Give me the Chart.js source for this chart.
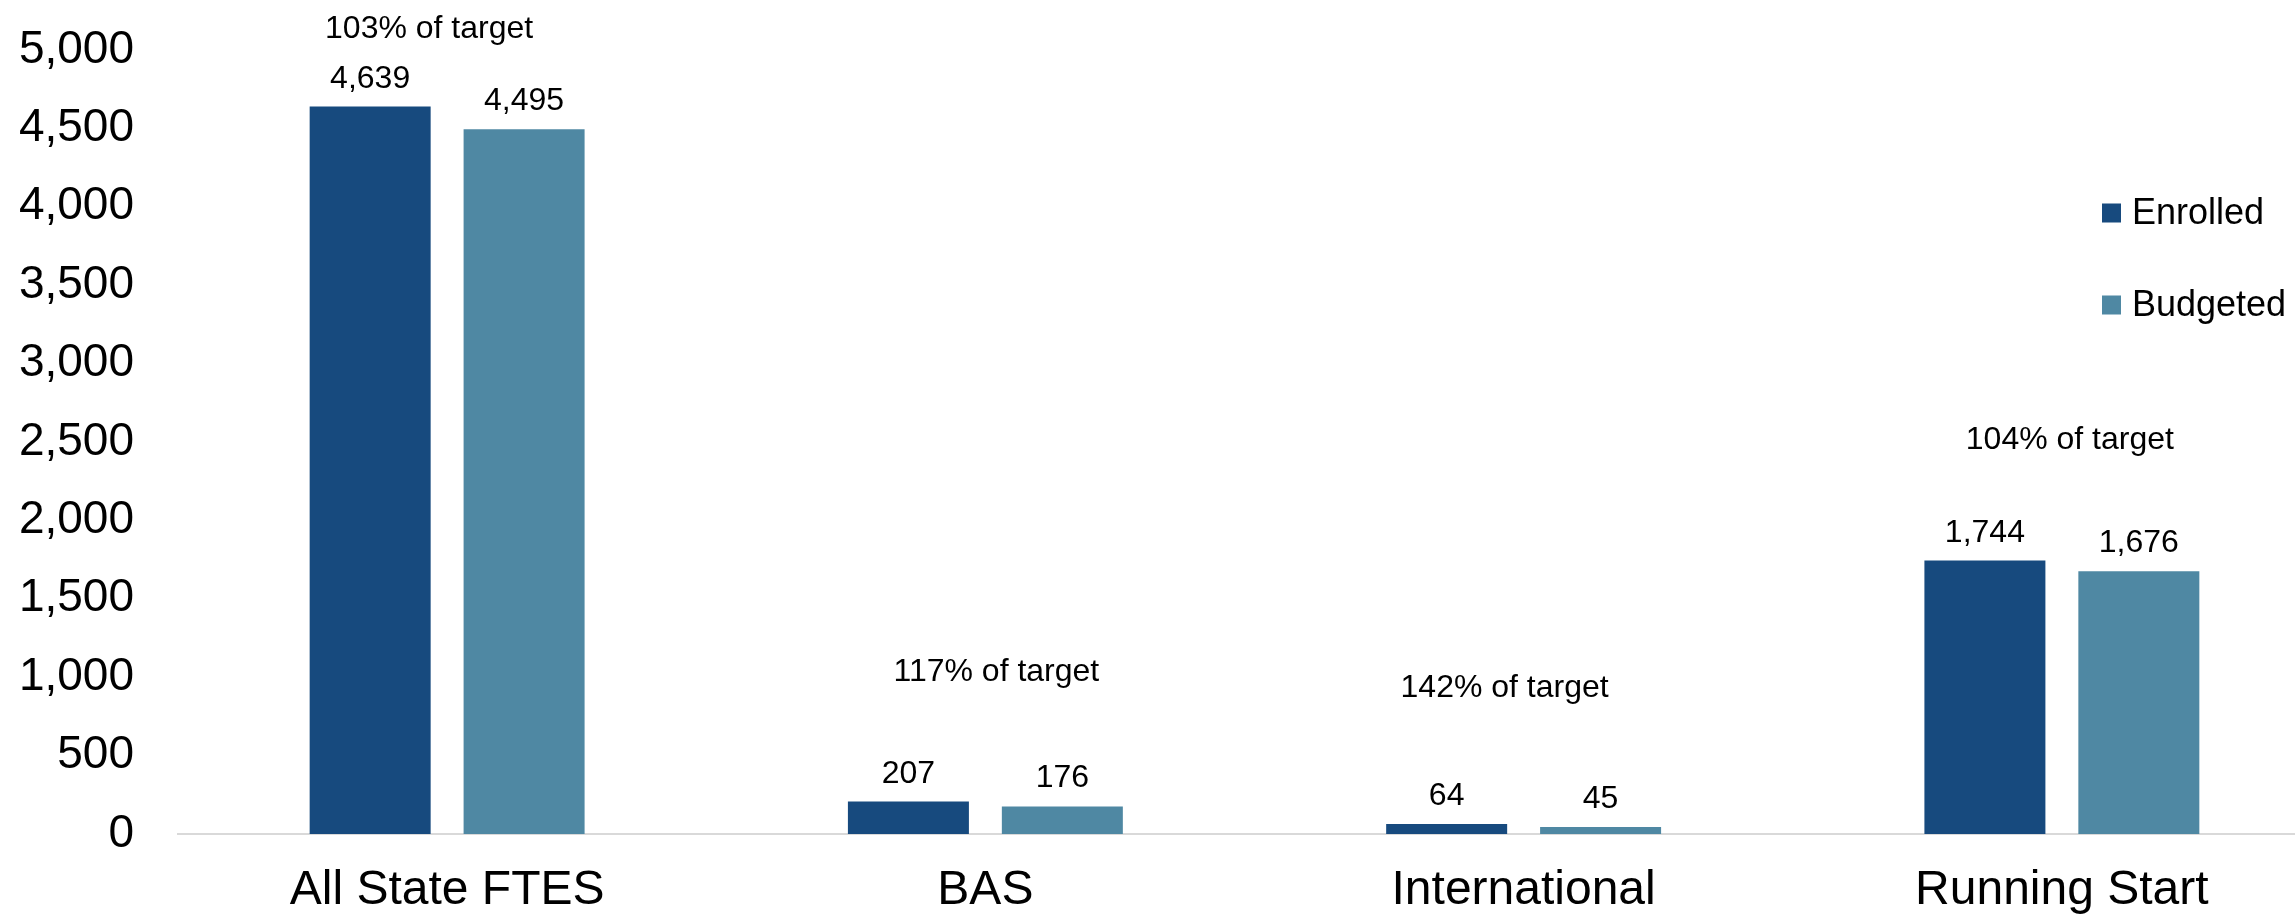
<!DOCTYPE html>
<html>
<head>
<meta charset="utf-8">
<title>FTES Enrolled vs Budgeted</title>
<script src="https://cdn.jsdelivr.net/npm/chart.js@4.4.1/dist/chart.umd.min.js"></script>
<style>
    html, body { margin: 0; padding: 0; background: #ffffff; overflow: hidden; }
    #wrap { position: relative; width: 2331px; height: 918px; }
</style>
</head>
<body>
<div id="wrap"><canvas id="ftesChart"></canvas></div>
<script>
// Chart data
const categories = ['All State FTES', 'BAS', 'International', 'Running Start'];
const enrolled = [4639, 207, 64, 1744];
const budgeted = [4495, 176, 45, 1676];
const yTicks = [0, 500, 1000, 1500, 2000, 2500, 3000, 3500, 4000, 4500, 5000];

// "% of target" notes, anchored in data units (like annotation boxes)
const targetNotes = ['103% of target', '117% of target', '142% of target', '104% of target'];
const noteValue = [5077, 976, 874, 2458];
const noteShift = [-18, 11, -19, 8];

const FONT = '"Liberation Sans", Arial, sans-serif';
const ENROLLED_COLOR = '#174A7E';
const BUDGETED_COLOR = '#4F88A3';

function formatValue(value) {
    return Number(value).toLocaleString('en-US');
}

// value labels above each bar
const valueLabels = {
    id: 'valueLabels',
    afterDatasetsDraw(chart) {
        const ctx = chart.ctx;
        ctx.save();
        ctx.font = '32px ' + FONT;
        ctx.fillStyle = '#000000';
        ctx.textAlign = 'center';
        ctx.textBaseline = 'alphabetic';
        chart.data.datasets.forEach((ds, di) => {
            const meta = chart.getDatasetMeta(di);
            meta.data.forEach((bar, i) => {
                ctx.fillText(formatValue(ds.data[i]), bar.x, bar.y - 19);
            });
        });
        ctx.restore();
    }
};

// free text notes over each group
const targetText = {
    id: 'targetText',
    afterDraw(chart) {
        const ctx = chart.ctx;
        const x = chart.scales.x;
        const y = chart.scales.y;
        ctx.save();
        ctx.font = '32px ' + FONT;
        ctx.fillStyle = '#000000';
        ctx.textAlign = 'center';
        ctx.textBaseline = 'alphabetic';
        targetNotes.forEach((text, i) => {
            ctx.fillText(text, x.getPixelForValue(i) + noteShift[i], y.getPixelForValue(noteValue[i]));
        });
        ctx.restore();
    }
};

// legend drawn inside the plot, top right
const insideLegend = {
    id: 'insideLegend',
    afterDraw(chart) {
        const ctx = chart.ctx;
        const area = chart.chartArea;
        const left = area.right - 229;
        const rows = [213, 305];
        ctx.save();
        ctx.font = '36px ' + FONT;
        ctx.textAlign = 'left';
        ctx.textBaseline = 'middle';
        chart.data.datasets.forEach((ds, i) => {
            const cy = rows[i];
            ctx.fillStyle = ds.backgroundColor;
            ctx.fillRect(left, cy - 9.5, 19, 19);
            ctx.fillStyle = '#000000';
            ctx.fillText(ds.label, left + 30, cy + 1);
        });
        ctx.restore();
    }
};

const ctx = document.getElementById('ftesChart');

new Chart(ctx, {
    type: 'bar',
    data: {
        labels: categories,
        datasets: [{
            label: 'Enrolled',
            data: enrolled,
            backgroundColor: ENROLLED_COLOR,
            borderWidth: 0,
            categoryPercentage: 0.572,
            barPercentage: 0.786
        }, {
            label: 'Budgeted',
            data: budgeted,
            backgroundColor: BUDGETED_COLOR,
            borderWidth: 0,
            categoryPercentage: 0.572,
            barPercentage: 0.786
        }]
    },
    options: {
        responsive: true,
        maintainAspectRatio: false,
        animation: false,
        layout: {
            padding: 0
        },
        scales: {
            x: {
                grid: { display: false, drawTicks: false },
                border: { display: true, color: '#D9D9D9', width: 2 },
                ticks: {
                    color: '#000000',
                    padding: 28,
                    font: { family: FONT, size: 48 }
                },
                afterFit(scale) {
                    scale.height = 84;
                    scale.paddingLeft = 0;
                    scale.paddingRight = 0;
                }
            },
            y: {
                min: 0,
                max: 5000,
                grid: { display: false, drawTicks: false },
                border: { display: false },
                afterBuildTicks(scale) {
                    scale.ticks = yTicks.map((v) => ({ value: v }));
                },
                ticks: {
                    color: '#000000',
                    padding: 44,
                    font: { family: FONT, size: 46 },
                    callback: (value) => formatValue(value)
                },
                afterFit(scale) {
                    // fixed gutter and top room so the plot sits like the original
                    scale.width = 178;
                    scale.paddingTop = 50;
                    scale.paddingBottom = 0;
                }
            }
        },
        plugins: {
            legend: { display: false },
            tooltip: { enabled: false }
        }
    },
    plugins: [valueLabels, targetText, insideLegend]
});
</script>
</body>
</html>
